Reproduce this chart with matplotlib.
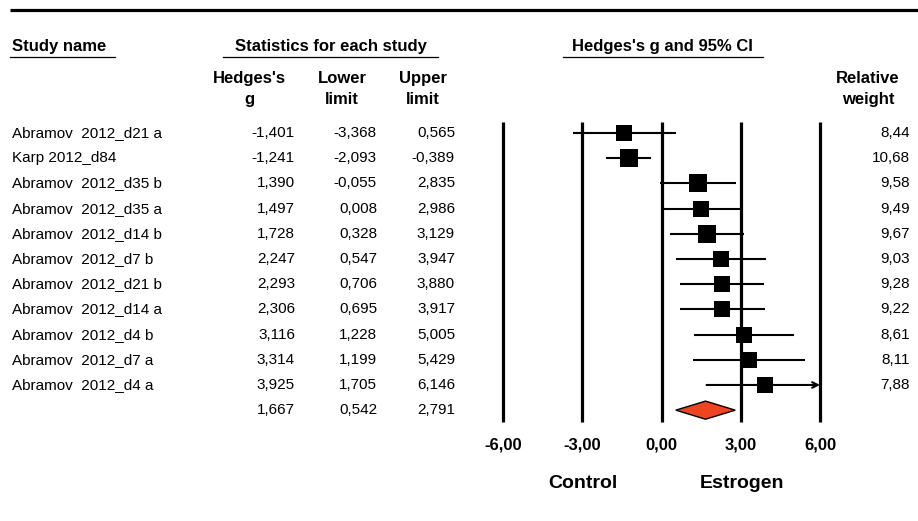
import matplotlib.pyplot as plt
import numpy as np
from matplotlib import transforms
from matplotlib.ticker import FuncFormatter

plt.rcParams['font.family'] = ['Liberation Sans', 'DejaVu Sans']

# study level results (Hedges's g, 95% CI, relative weight in %)
studies = ['Abramov  2012_d21 a', 'Karp 2012_d84', 'Abramov  2012_d35 b', 'Abramov  2012_d35 a',
           'Abramov  2012_d14 b', 'Abramov  2012_d7 b', 'Abramov  2012_d21 b', 'Abramov  2012_d14 a',
           'Abramov  2012_d4 b', 'Abramov  2012_d7 a', 'Abramov  2012_d4 a']
hedges_g = [-1.401, -1.241, 1.390, 1.497, 1.728, 2.247, 2.293, 2.306, 3.116, 3.314, 3.925]
lower = [-3.368, -2.093, -0.055, 0.008, 0.328, 0.547, 0.706, 0.695, 1.228, 1.199, 1.705]
upper = [0.565, -0.389, 2.835, 2.986, 3.129, 3.947, 3.880, 3.917, 5.005, 5.429, 6.146]
weights = [8.44, 10.68, 9.58, 9.49, 9.67, 9.03, 9.28, 9.22, 8.61, 8.11, 7.88]

# pooled estimate
pooled_g = 1.667
pooled_lower = 0.542
pooled_upper = 2.791

ticks = [-6, -3, 0, 3, 6]


def comma(v, nd=3):
    return f"{v:.{nd}f}".replace('.', ',')


W, H = 918, 521
fig = plt.figure(figsize=(W / 100, H / 100), dpi=100)

# overlay axes in pixel coordinates for the table part
tab = fig.add_axes([0, 0, 1, 1])
tab.set_xlim(0, W)
tab.set_ylim(H, 0)
tab.axis('off')

# forest plot axes, x in units of g, y in row index
x0, x1, y0, y1 = 503, 820, 122, 422
ax = fig.add_axes([x0 / W, 1 - y1 / H, (x1 - x0) / W, (y1 - y0) / H])
n = len(studies)
ax.set_xlim(-6, 6)
ax.set_ylim(11.47, -0.44)
for s in ax.spines.values():
    s.set_visible(False)
ax.set_yticks([])
ax.set_xticks(ticks)
ax.xaxis.set_major_formatter(FuncFormatter(lambda v, p: comma(v, 2)))
ax.tick_params(axis='x', length=0, pad=11, labelsize=12)
for lab in ax.get_xticklabels():
    lab.set_fontweight('bold')
ax.patch.set_alpha(0)

ax.vlines(ticks, 11.47, -0.44, color='black', lw=2.3, clip_on=False, zorder=1)

# confidence intervals and weighted squares
for i in range(n):
    hi = min(upper[i], 6)
    if upper[i] > 6:
        ax.annotate('', xy=(hi, i), xytext=(lower[i], i),
                    arrowprops=dict(arrowstyle='->', lw=1.5, color='black',
                                    shrinkA=0, shrinkB=0, mutation_scale=10),
                    zorder=2)
    else:
        ax.hlines(i, lower[i], hi, color='black', lw=1.5, zorder=2)
    ax.plot(hedges_g[i], i, marker='s', color='black', markeredgewidth=0,
            markersize=5.5 * np.sqrt(weights[i]) * 0.72, zorder=3)

# summary diamond
ys = n
ax.fill([pooled_lower, pooled_g, pooled_upper, pooled_g],
        [ys, ys - 0.36, ys, ys + 0.36],
        facecolor='#EE4422', edgecolor='black', lw=1, zorder=3, clip_on=False)

# table text, x in pixels, y in row units
tr = transforms.blended_transform_factory(tab.transData, ax.transData)
for i in range(n):
    tab.text(12, i, studies[i], transform=tr, ha='left', va='center', fontsize=11)
    tab.text(295, i, comma(hedges_g[i]), transform=tr, ha='right', va='center', fontsize=11)
    tab.text(377, i, comma(lower[i]), transform=tr, ha='right', va='center', fontsize=11)
    tab.text(455, i, comma(upper[i]), transform=tr, ha='right', va='center', fontsize=11)
    tab.text(910, i, comma(weights[i], 2), transform=tr, ha='right', va='center', fontsize=11)
tab.text(295, n, comma(pooled_g), transform=tr, ha='right', va='center', fontsize=11)
tab.text(377, n, comma(pooled_lower), transform=tr, ha='right', va='center', fontsize=11)
tab.text(455, n, comma(pooled_upper), transform=tr, ha='right', va='center', fontsize=11)

# headers
tab.plot([10, W], [10, 10], color='black', lw=2.3, solid_capstyle='butt')
tab.text(12, 46, 'Study name', ha='left', va='center', fontsize=12, fontweight='bold')
tab.text(331, 46, 'Statistics for each study', ha='center', va='center', fontsize=12, fontweight='bold')
tab.text(662, 46, "Hedges's g and 95% CI", ha='center', va='center', fontsize=12, fontweight='bold')
tab.plot([10, 115], [57, 57], color='black', lw=0.9)
tab.plot([223, 438], [57, 57], color='black', lw=0.9)
tab.plot([563, 763], [57, 57], color='black', lw=0.9)

col_heads = [(249, "Hedges's\ng"), (342, 'Lower\nlimit'), (423, 'Upper\nlimit'), (868, 'Relative\nweight')]
for xh, txt in col_heads:
    tab.text(xh, 89, txt, ha='center', va='center', fontsize=12, fontweight='bold', linespacing=1.45)

tab.text(583, 484, 'Control', ha='center', va='center', fontsize=14, fontweight='bold')
tab.text(742, 484, 'Estrogen', ha='center', va='center', fontsize=14, fontweight='bold')

plt.savefig('out.png', dpi=100, facecolor='white')
